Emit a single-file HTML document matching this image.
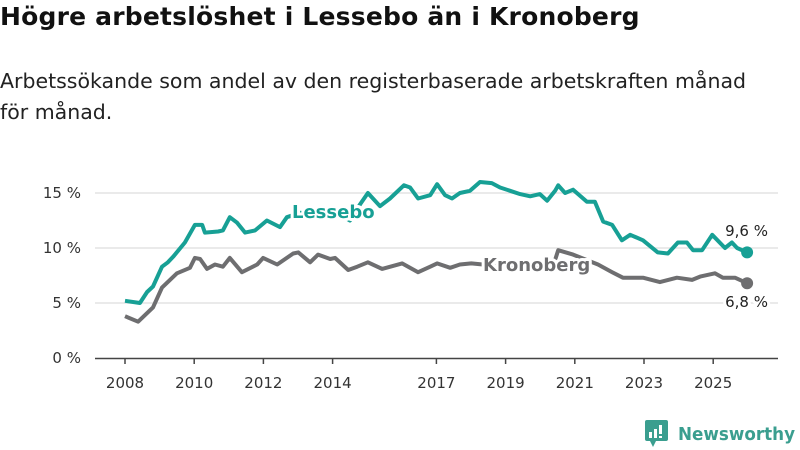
<!DOCTYPE html>
<html><head><meta charset="utf-8"><style>
body{margin:0;width:800px;height:450px;background:#fff;font-family:"Liberation Sans","DejaVu Sans",sans-serif;overflow:hidden;position:relative}
h1{position:absolute;left:0;top:2px;margin:0;font-size:25px;font-weight:bold;color:#111;font-family:"DejaVu Sans",sans-serif;letter-spacing:0.2px;white-space:nowrap}
p{position:absolute;left:0;top:66px;margin:0;font-size:20.5px;line-height:31px;color:#222;font-family:"DejaVu Sans",sans-serif;width:800px;white-space:nowrap}
svg{position:absolute;left:0;top:0}
</style></head><body>
<h1>Högre arbetslöshet i Lessebo än i Kronoberg</h1>
<p>Arbetssökande som andel av den registerbaserade arbetskraften månad<br>för månad.</p>
<svg id="chart" width="800" height="450"></svg>
<script>
const yTicks=[0,5,10,15];
const xTicks=[2008,2010,2012,2014,2017,2019,2021,2023,2025];
const lesseboDates=[2008.0,2008.43,2008.64,2008.81,2009.07,2009.24,2009.39,2009.73,2010.02,2010.23,2010.31,2010.69,2010.83,2011.03,2011.24,2011.47,2011.76,2012.1,2012.48,2012.68,2013.06,2013.64,2014.07,2014.5,2014.8,2015.02,2015.37,2015.66,2016.06,2016.24,2016.47,2016.82,2017.02,2017.25,2017.45,2017.68,2017.97,2018.26,2018.6,2018.84,2019.13,2019.42,2019.71,2019.99,2020.2,2020.43,2020.52,2020.72,2020.95,2021.35,2021.58,2021.82,2022.08,2022.36,2022.6,2022.97,2023.4,2023.69,2023.98,2024.24,2024.42,2024.68,2024.97,2025.34,2025.54,2025.69,2025.98];
const lesseboValues=[5.2,5.0,6.0,6.5,8.3,8.7,9.2,10.5,12.1,12.1,11.4,11.5,11.6,12.8,12.3,11.4,11.6,12.5,11.9,12.8,13.2,13.0,13.3,12.5,14.0,15.0,13.8,14.5,15.7,15.5,14.5,14.8,15.8,14.8,14.5,15.0,15.2,16.0,15.9,15.5,15.2,14.9,14.7,14.9,14.3,15.2,15.7,15.0,15.3,14.2,14.2,12.4,12.1,10.7,11.2,10.7,9.6,9.5,10.5,10.5,9.8,9.8,11.2,10.0,10.5,10.0,9.6];
const kronoDates=[2008.0,2008.38,2008.81,2009.07,2009.5,2009.88,2010.02,2010.17,2010.37,2010.6,2010.83,2011.03,2011.38,2011.82,2011.99,2012.4,2012.86,2013.01,2013.35,2013.58,2013.93,2014.07,2014.45,2014.71,2015.02,2015.43,2016.01,2016.47,2016.82,2017.02,2017.4,2017.68,2018.01,2018.34,2018.5,2018.8,2019.2,2019.6,2020.0,2020.4,2020.52,2020.95,2021.67,2022.08,2022.39,2022.97,2023.46,2023.95,2024.39,2024.62,2025.05,2025.28,2025.63,2025.98];
const kronoValues=[3.8,3.3,4.6,6.4,7.7,8.2,9.1,9.0,8.1,8.5,8.3,9.1,7.8,8.5,9.1,8.5,9.5,9.6,8.7,9.4,9.0,9.1,8.0,8.3,8.7,8.1,8.6,7.8,8.3,8.6,8.2,8.5,8.6,8.5,8.2,8.4,8.3,8.5,8.4,8.6,9.8,9.4,8.5,7.8,7.3,7.3,6.9,7.3,7.1,7.4,7.7,7.3,7.3,6.8];
const NS='http://www.w3.org/2000/svg';
const svg=document.getElementById('chart');
const xS=v=>125+(v-2008)*34.6;
const yS=v=>358-v*11;
function mk(t,a,p){const e=document.createElementNS(NS,t);for(const k in a)e.setAttribute(k,a[k]);(p||svg).appendChild(e);return e;}
yTicks.forEach(t=>{
  if(t>0){const g=mk('line',{x1:95,x2:778,y1:yS(t),y2:yS(t),stroke:'#e3e3e3','stroke-width':1.5});
  
  }
  const l=mk('text',{x:81,y:yS(t)+5,'text-anchor':'end','font-size':15,fill:'#333','font-family':'DejaVu Sans, sans-serif'});
  l.textContent=t+' %';
  
  
});
const ax=mk('line',{x1:95,x2:778,y1:358.5,y2:358.5,stroke:'#444','stroke-width':1.5});


xTicks.forEach(t=>{
  const tk=mk('line',{x1:xS(t),x2:xS(t),y1:358,y2:364,stroke:'#444','stroke-width':1.5});
  
  
  const l=mk('text',{x:xS(t),y:388,'text-anchor':'middle','font-size':15,fill:'#333','font-family':'DejaVu Sans, sans-serif'});
  l.textContent=t;
  
  
});
function series(d,v,col,name){
  const pts=d.map((x,i)=>xS(x).toFixed(1)+','+yS(v[i]).toFixed(1)).join(' ');
  const pl=mk('polyline',{points:pts,fill:'none',stroke:col,'stroke-width':4,'stroke-linejoin':'round'});
  
  
  const n=d.length-1;
  const c=mk('circle',{cx:xS(d[n]),cy:yS(v[n]),r:6,fill:col});
  
  
}
series(kronoDates,kronoValues,'#6e6e70','kronoberg');
series(lesseboDates,lesseboValues,'#17a095','lessebo');
function label(x,y,txt,col,name,size,weight,anchor){
  const t=mk('text',{x:x,y:y,'font-size':size,'font-weight':weight,fill:col,'text-anchor':anchor||'start',stroke:'#fff','stroke-width':6,'paint-order':'stroke','stroke-linejoin':'round','font-family':'DejaVu Sans, sans-serif'});
  t.textContent=txt;
  
  
}
label(292,218,'Lessebo','#17a095','lessebo-label',18,'bold');
label(483,271,'Kronoberg','#6e6e70','kronoberg-label',18,'bold');
label(768,236,'9,6 %','#222','lessebo-end-value',15,'normal','end');
label(768,307,'6,8 %','#222','kronoberg-end-value',15,'normal','end');
</script>
<svg width="800" height="450" style="position:absolute;left:0;top:0">
<rect x="645" y="420" width="23" height="21" rx="2" fill="#3a9e8f"/>
<polygon points="650,441 656,441 653,447" fill="#3a9e8f"/>
<rect x="649" y="432" width="3" height="6" fill="#fff"/><rect x="654" y="429" width="3" height="9" fill="#fff"/><rect x="659" y="425" width="3" height="9" fill="#fff"/><rect x="659" y="436" width="3" height="2" fill="#fff"/>
<text x="678" y="440" font-size="18" font-weight="bold" fill="#3a9e8f" font-family="DejaVu Sans, sans-serif" textLength="117" lengthAdjust="spacingAndGlyphs">Newsworthy</text>
</svg>
</body></html>
